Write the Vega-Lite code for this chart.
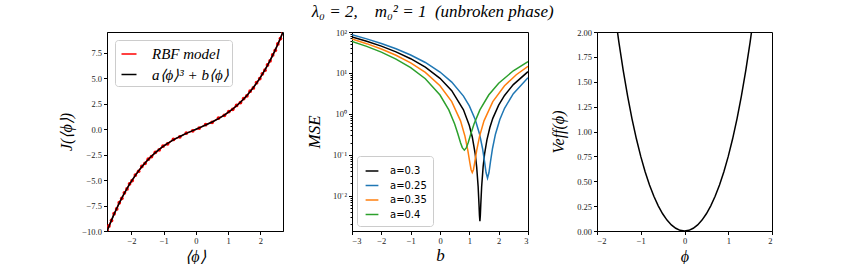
{
  "$schema": "https://vega.github.io/schema/vega-lite/v6.json",
  "autosize": {"type": "none"},
  "padding": {"left": 107, "top": 32, "right": 752, "bottom": 232},
  "background": "white",
  "title": {"text": "λ₀ = 2,\u2002\u2002m₀² = 1\u2002(unbroken phase)", "font": "Liberation Serif", "fontStyle": "italic", "fontWeight": "normal", "fontSize": 17, "color": "black", "anchor": "middle", "offset": 7, "dx": 17},
  "datasets": {
    "rbf": [
      {"phi": -2.756, "J": -9.98, "series": "RBF model"},
      {"phi": -2.70, "J": -9.50, "series": "RBF model"},
      {"phi": -2.62, "J": -8.96, "series": "RBF model"},
      {"phi": -2.54, "J": -8.30, "series": "RBF model"},
      {"phi": -2.46, "J": -7.83, "series": "RBF model"},
      {"phi": -2.38, "J": -7.22, "series": "RBF model"},
      {"phi": -2.30, "J": -6.79, "series": "RBF model"},
      {"phi": -2.22, "J": -6.25, "series": "RBF model"},
      {"phi": -2.14, "J": -5.87, "series": "RBF model"},
      {"phi": -2.06, "J": -5.37, "series": "RBF model"},
      {"phi": -1.98, "J": -5.04, "series": "RBF model"},
      {"phi": -1.88, "J": -4.50, "series": "RBF model"},
      {"phi": -1.78, "J": -4.13, "series": "RBF model"},
      {"phi": -1.68, "J": -3.66, "series": "RBF model"},
      {"phi": -1.58, "J": -3.35, "series": "RBF model"},
      {"phi": -1.48, "J": -2.94, "series": "RBF model"},
      {"phi": -1.38, "J": -2.69, "series": "RBF model"},
      {"phi": -1.26, "J": -2.27, "series": "RBF model"},
      {"phi": -1.14, "J": -2.02, "series": "RBF model"},
      {"phi": -1.02, "J": -1.66, "series": "RBF model"},
      {"phi": -0.88, "J": -1.43, "series": "RBF model"},
      {"phi": -0.70, "J": -1.01, "series": "RBF model"},
      {"phi": -0.50, "J": -0.75, "series": "RBF model"},
      {"phi": -0.30, "J": -0.38, "series": "RBF model"},
      {"phi": -0.10, "J": -0.16, "series": "RBF model"},
      {"phi": 0.10, "J": 0.11, "series": "RBF model"},
      {"phi": 0.30, "J": 0.45, "series": "RBF model"},
      {"phi": 0.50, "J": 0.68, "series": "RBF model"},
      {"phi": 0.70, "J": 1.09, "series": "RBF model"},
      {"phi": 0.88, "J": 1.36, "series": "RBF model"},
      {"phi": 1.02, "J": 1.73, "series": "RBF model"},
      {"phi": 1.14, "J": 1.95, "series": "RBF model"},
      {"phi": 1.26, "J": 2.34, "series": "RBF model"},
      {"phi": 1.38, "J": 2.62, "series": "RBF model"},
      {"phi": 1.48, "J": 3.01, "series": "RBF model"},
      {"phi": 1.58, "J": 3.28, "series": "RBF model"},
      {"phi": 1.68, "J": 3.73, "series": "RBF model"},
      {"phi": 1.78, "J": 4.06, "series": "RBF model"},
      {"phi": 1.88, "J": 4.57, "series": "RBF model"},
      {"phi": 1.98, "J": 4.97, "series": "RBF model"},
      {"phi": 2.06, "J": 5.44, "series": "RBF model"},
      {"phi": 2.14, "J": 5.80, "series": "RBF model"},
      {"phi": 2.22, "J": 6.32, "series": "RBF model"},
      {"phi": 2.30, "J": 6.72, "series": "RBF model"},
      {"phi": 2.38, "J": 7.30, "series": "RBF model"},
      {"phi": 2.46, "J": 7.75, "series": "RBF model"},
      {"phi": 2.54, "J": 8.38, "series": "RBF model"},
      {"phi": 2.62, "J": 8.90, "series": "RBF model"},
      {"phi": 2.70, "J": 9.58, "series": "RBF model"}
    ],
    "fit": [
      {"phi": -2.756, "J": -10.0, "series": "a⟨ϕ⟩³ + b⟨ϕ⟩"},
      {"phi": -2.70, "J": -9.550, "series": "a⟨ϕ⟩³ + b⟨ϕ⟩"},
      {"phi": -2.62, "J": -8.933, "series": "a⟨ϕ⟩³ + b⟨ϕ⟩"},
      {"phi": -2.54, "J": -8.345, "series": "a⟨ϕ⟩³ + b⟨ϕ⟩"},
      {"phi": -2.46, "J": -7.787, "series": "a⟨ϕ⟩³ + b⟨ϕ⟩"},
      {"phi": -2.38, "J": -7.257, "series": "a⟨ϕ⟩³ + b⟨ϕ⟩"},
      {"phi": -2.30, "J": -6.755, "series": "a⟨ϕ⟩³ + b⟨ϕ⟩"},
      {"phi": -2.22, "J": -6.279, "series": "a⟨ϕ⟩³ + b⟨ϕ⟩"},
      {"phi": -2.14, "J": -5.829, "series": "a⟨ϕ⟩³ + b⟨ϕ⟩"},
      {"phi": -2.06, "J": -5.404, "series": "a⟨ϕ⟩³ + b⟨ϕ⟩"},
      {"phi": -1.98, "J": -5.002, "series": "a⟨ϕ⟩³ + b⟨ϕ⟩"},
      {"phi": -1.88, "J": -4.531, "series": "a⟨ϕ⟩³ + b⟨ϕ⟩"},
      {"phi": -1.78, "J": -4.095, "series": "a⟨ϕ⟩³ + b⟨ϕ⟩"},
      {"phi": -1.68, "J": -3.691, "series": "a⟨ϕ⟩³ + b⟨ϕ⟩"},
      {"phi": -1.58, "J": -3.316, "series": "a⟨ϕ⟩³ + b⟨ϕ⟩"},
      {"phi": -1.48, "J": -2.971, "series": "a⟨ϕ⟩³ + b⟨ϕ⟩"},
      {"phi": -1.38, "J": -2.651, "series": "a⟨ϕ⟩³ + b⟨ϕ⟩"},
      {"phi": -1.26, "J": -2.301, "series": "a⟨ϕ⟩³ + b⟨ϕ⟩"},
      {"phi": -1.14, "J": -1.984, "series": "a⟨ϕ⟩³ + b⟨ϕ⟩"},
      {"phi": -1.02, "J": -1.695, "series": "a⟨ϕ⟩³ + b⟨ϕ⟩"},
      {"phi": -0.88, "J": -1.392, "series": "a⟨ϕ⟩³ + b⟨ϕ⟩"},
      {"phi": -0.70, "J": -1.048, "series": "a⟨ϕ⟩³ + b⟨ϕ⟩"},
      {"phi": -0.50, "J": -0.7125, "series": "a⟨ϕ⟩³ + b⟨ϕ⟩"},
      {"phi": -0.30, "J": -0.413, "series": "a⟨ϕ⟩³ + b⟨ϕ⟩"},
      {"phi": -0.10, "J": -0.135, "series": "a⟨ϕ⟩³ + b⟨ϕ⟩"},
      {"phi": 0.0, "J": 0.0, "series": "a⟨ϕ⟩³ + b⟨ϕ⟩"},
      {"phi": 0.10, "J": 0.135, "series": "a⟨ϕ⟩³ + b⟨ϕ⟩"},
      {"phi": 0.30, "J": 0.413, "series": "a⟨ϕ⟩³ + b⟨ϕ⟩"},
      {"phi": 0.50, "J": 0.7125, "series": "a⟨ϕ⟩³ + b⟨ϕ⟩"},
      {"phi": 0.70, "J": 1.048, "series": "a⟨ϕ⟩³ + b⟨ϕ⟩"},
      {"phi": 0.88, "J": 1.392, "series": "a⟨ϕ⟩³ + b⟨ϕ⟩"},
      {"phi": 1.02, "J": 1.695, "series": "a⟨ϕ⟩³ + b⟨ϕ⟩"},
      {"phi": 1.14, "J": 1.984, "series": "a⟨ϕ⟩³ + b⟨ϕ⟩"},
      {"phi": 1.26, "J": 2.301, "series": "a⟨ϕ⟩³ + b⟨ϕ⟩"},
      {"phi": 1.38, "J": 2.651, "series": "a⟨ϕ⟩³ + b⟨ϕ⟩"},
      {"phi": 1.48, "J": 2.971, "series": "a⟨ϕ⟩³ + b⟨ϕ⟩"},
      {"phi": 1.58, "J": 3.316, "series": "a⟨ϕ⟩³ + b⟨ϕ⟩"},
      {"phi": 1.68, "J": 3.691, "series": "a⟨ϕ⟩³ + b⟨ϕ⟩"},
      {"phi": 1.78, "J": 4.095, "series": "a⟨ϕ⟩³ + b⟨ϕ⟩"},
      {"phi": 1.88, "J": 4.531, "series": "a⟨ϕ⟩³ + b⟨ϕ⟩"},
      {"phi": 1.98, "J": 5.002, "series": "a⟨ϕ⟩³ + b⟨ϕ⟩"},
      {"phi": 2.06, "J": 5.404, "series": "a⟨ϕ⟩³ + b⟨ϕ⟩"},
      {"phi": 2.14, "J": 5.829, "series": "a⟨ϕ⟩³ + b⟨ϕ⟩"},
      {"phi": 2.22, "J": 6.279, "series": "a⟨ϕ⟩³ + b⟨ϕ⟩"},
      {"phi": 2.30, "J": 6.755, "series": "a⟨ϕ⟩³ + b⟨ϕ⟩"},
      {"phi": 2.38, "J": 7.257, "series": "a⟨ϕ⟩³ + b⟨ϕ⟩"},
      {"phi": 2.46, "J": 7.787, "series": "a⟨ϕ⟩³ + b⟨ϕ⟩"},
      {"phi": 2.54, "J": 8.345, "series": "a⟨ϕ⟩³ + b⟨ϕ⟩"},
      {"phi": 2.62, "J": 8.933, "series": "a⟨ϕ⟩³ + b⟨ϕ⟩"},
      {"phi": 2.70, "J": 9.550, "series": "a⟨ϕ⟩³ + b⟨ϕ⟩"}
    ],
    "mse": [
      {"a": "0.3", "b": -3.0, "mse": 76.04},
      {"a": "0.3", "b": -2.5, "mse": 59.60},
      {"a": "0.3", "b": -2.0, "mse": 45.16},
      {"a": "0.3", "b": -1.5, "mse": 32.72},
      {"a": "0.3", "b": -1.0, "mse": 22.28},
      {"a": "0.3", "b": -0.5, "mse": 13.84},
      {"a": "0.3", "b": 0.0, "mse": 7.40},
      {"a": "0.3", "b": 0.4, "mse": 3.689},
      {"a": "0.3", "b": 0.8, "mse": 1.257},
      {"a": "0.3", "b": 1.0, "mse": 0.521},
      {"a": "0.3", "b": 1.1, "mse": 0.273},
      {"a": "0.3", "b": 1.2, "mse": 0.105},
      {"a": "0.3", "b": 1.25, "mse": 0.0508},
      {"a": "0.3", "b": 1.3, "mse": 0.0168},
      {"a": "0.3", "b": 1.33, "mse": 0.0060},
      {"a": "0.3", "b": 1.345, "mse": 0.0033},
      {"a": "0.3", "b": 1.36, "mse": 0.0024},
      {"a": "0.3", "b": 1.375, "mse": 0.0033},
      {"a": "0.3", "b": 1.39, "mse": 0.0060},
      {"a": "0.3", "b": 1.42, "mse": 0.0168},
      {"a": "0.3", "b": 1.47, "mse": 0.0508},
      {"a": "0.3", "b": 1.52, "mse": 0.105},
      {"a": "0.3", "b": 1.6, "mse": 0.233},
      {"a": "0.3", "b": 1.7, "mse": 0.465},
      {"a": "0.3", "b": 1.8, "mse": 0.777},
      {"a": "0.3", "b": 2.0, "mse": 1.641},
      {"a": "0.3", "b": 2.2, "mse": 2.825},
      {"a": "0.3", "b": 2.5, "mse": 5.201},
      {"a": "0.3", "b": 3.0, "mse": 10.76},
      {"a": "0.25", "b": -3.0, "mse": 85.40},
      {"a": "0.25", "b": -2.5, "mse": 67.92},
      {"a": "0.25", "b": -2.0, "mse": 52.44},
      {"a": "0.25", "b": -1.5, "mse": 38.96},
      {"a": "0.25", "b": -1.0, "mse": 27.48},
      {"a": "0.25", "b": -0.5, "mse": 18.00},
      {"a": "0.25", "b": 0.0, "mse": 10.52},
      {"a": "0.25", "b": 0.4, "mse": 5.98},
      {"a": "0.25", "b": 0.8, "mse": 2.717},
      {"a": "0.25", "b": 1.0, "mse": 1.565},
      {"a": "0.25", "b": 1.2, "mse": 0.733},
      {"a": "0.25", "b": 1.35, "mse": 0.319},
      {"a": "0.25", "b": 1.45, "mse": 0.143},
      {"a": "0.25", "b": 1.52, "mse": 0.067},
      {"a": "0.25", "b": 1.57, "mse": 0.037},
      {"a": "0.25", "b": 1.62, "mse": 0.027},
      {"a": "0.25", "b": 1.67, "mse": 0.037},
      {"a": "0.25", "b": 1.72, "mse": 0.067},
      {"a": "0.25", "b": 1.79, "mse": 0.143},
      {"a": "0.25", "b": 1.89, "mse": 0.319},
      {"a": "0.25", "b": 2.04, "mse": 0.733},
      {"a": "0.25", "b": 2.2, "mse": 1.373},
      {"a": "0.25", "b": 2.5, "mse": 3.125},
      {"a": "0.25", "b": 3.0, "mse": 7.645},
      {"a": "0.35", "b": -3.0, "mse": 67.28},
      {"a": "0.35", "b": -2.5, "mse": 51.88},
      {"a": "0.35", "b": -2.0, "mse": 38.48},
      {"a": "0.35", "b": -1.5, "mse": 27.08},
      {"a": "0.35", "b": -1.0, "mse": 17.68},
      {"a": "0.35", "b": -0.5, "mse": 10.28},
      {"a": "0.35", "b": 0.0, "mse": 4.877},
      {"a": "0.35", "b": 0.4, "mse": 1.997},
      {"a": "0.35", "b": 0.7, "mse": 0.677},
      {"a": "0.35", "b": 0.85, "mse": 0.287},
      {"a": "0.35", "b": 0.95, "mse": 0.127},
      {"a": "0.35", "b": 1.02, "mse": 0.0626},
      {"a": "0.35", "b": 1.06, "mse": 0.0434},
      {"a": "0.35", "b": 1.10, "mse": 0.037},
      {"a": "0.35", "b": 1.14, "mse": 0.0434},
      {"a": "0.35", "b": 1.18, "mse": 0.0626},
      {"a": "0.35", "b": 1.25, "mse": 0.127},
      {"a": "0.35", "b": 1.35, "mse": 0.287},
      {"a": "0.35", "b": 1.5, "mse": 0.677},
      {"a": "0.35", "b": 1.8, "mse": 1.997},
      {"a": "0.35", "b": 2.2, "mse": 4.877},
      {"a": "0.35", "b": 2.6, "mse": 9.037},
      {"a": "0.35", "b": 3.0, "mse": 14.48},
      {"a": "0.4", "b": -3.0, "mse": 58.81},
      {"a": "0.4", "b": -2.5, "mse": 44.49},
      {"a": "0.4", "b": -2.0, "mse": 32.17},
      {"a": "0.4", "b": -1.5, "mse": 21.85},
      {"a": "0.4", "b": -1.0, "mse": 13.53},
      {"a": "0.4", "b": -0.5, "mse": 7.206},
      {"a": "0.4", "b": 0.0, "mse": 2.886},
      {"a": "0.4", "b": 0.3, "mse": 1.254},
      {"a": "0.4", "b": 0.5, "mse": 0.566},
      {"a": "0.4", "b": 0.6, "mse": 0.342},
      {"a": "0.4", "b": 0.7, "mse": 0.198},
      {"a": "0.4", "b": 0.76, "mse": 0.150},
      {"a": "0.4", "b": 0.83, "mse": 0.130},
      {"a": "0.4", "b": 0.9, "mse": 0.150},
      {"a": "0.4", "b": 0.96, "mse": 0.198},
      {"a": "0.4", "b": 1.06, "mse": 0.342},
      {"a": "0.4", "b": 1.16, "mse": 0.566},
      {"a": "0.4", "b": 1.36, "mse": 1.254},
      {"a": "0.4", "b": 1.66, "mse": 2.886},
      {"a": "0.4", "b": 2.0, "mse": 5.606},
      {"a": "0.4", "b": 2.5, "mse": 11.29},
      {"a": "0.4", "b": 3.0, "mse": 18.97}
    ],
    "veff": [
      {"phi": -1.6, "V": 2.2195},
      {"phi": -1.5, "V": 1.8984},
      {"phi": -1.4, "V": 1.6111},
      {"phi": -1.3, "V": 1.3550},
      {"phi": -1.2, "V": 1.1275},
      {"phi": -1.1, "V": 0.9266},
      {"phi": -1.0, "V": 0.75},
      {"phi": -0.9, "V": 0.5960},
      {"phi": -0.8, "V": 0.4627},
      {"phi": -0.7, "V": 0.3488},
      {"phi": -0.6, "V": 0.2527},
      {"phi": -0.5, "V": 0.1734},
      {"phi": -0.4, "V": 0.1099},
      {"phi": -0.3, "V": 0.0614},
      {"phi": -0.2, "V": 0.0271},
      {"phi": -0.1, "V": 0.0068},
      {"phi": 0.0, "V": 0.0},
      {"phi": 0.1, "V": 0.0068},
      {"phi": 0.2, "V": 0.0271},
      {"phi": 0.3, "V": 0.0614},
      {"phi": 0.4, "V": 0.1099},
      {"phi": 0.5, "V": 0.1734},
      {"phi": 0.6, "V": 0.2527},
      {"phi": 0.7, "V": 0.3488},
      {"phi": 0.8, "V": 0.4627},
      {"phi": 0.9, "V": 0.5960},
      {"phi": 1.0, "V": 0.75},
      {"phi": 1.1, "V": 0.9266},
      {"phi": 1.2, "V": 1.1275},
      {"phi": 1.3, "V": 1.3550},
      {"phi": 1.4, "V": 1.6111},
      {"phi": 1.5, "V": 1.8984},
      {"phi": 1.6, "V": 2.2195}
    ]
  },
  "bounds": "flush",
  "spacing": 69,
  "resolve": {"scale": {"color": "independent", "x": "independent", "y": "independent"}, "legend": {"color": "independent"}},
  "hconcat": [
    {
      "width": 176,
      "height": 199,
      "encoding": {
        "x": {"field": "phi", "type": "quantitative", "scale": {"domain": [-2.76, 2.7], "nice": false, "zero": false}, "axis": {"values": [-2, -1, 0, 1, 2], "title": "⟨ϕ⟩", "titleFontSize": 16, "titlePadding": 3}},
        "y": {"field": "J", "type": "quantitative", "scale": {"domain": [-10, 9.55], "nice": false, "zero": false}, "axis": {"values": [-10, -7.5, -5, -2.5, 0, 2.5, 5, 7.5], "format": ".1f", "title": "J(⟨ϕ⟩)", "titleFontSize": 16, "titlePadding": 7}},
        "color": {"field": "series", "type": "nominal", "scale": {"domain": ["RBF model", "a⟨ϕ⟩³ + b⟨ϕ⟩"], "range": ["#ff0000", "#000000"]},
          "legend": {"title": null, "orient": "top-left", "offset": 8, "symbolType": "M-0.75,0H0.75", "symbolSize": 400, "symbolStrokeWidth": 1.5, "labelFont": "Liberation Serif", "labelFontStyle": "italic", "labelFontSize": 15, "labelColor": "black", "labelOffset": 12, "rowPadding": 1.5, "padding": 3, "strokeColor": "#cccccc", "cornerRadius": 3, "fillColor": "white"}}
      },
      "layer": [
        {
          "data": {"name": "rbf"},
          "mark": {"type": "line", "clip": true, "strokeWidth": 1.5, "point": {"filled": true, "size": 14}}
        },
        {
          "data": {"name": "fit"},
          "mark": {"type": "line", "clip": true, "strokeWidth": 1.5}
        }
      ]
    },
    {
      "width": 176,
      "height": 199,
      "data": {"name": "mse"},
      "encoding": {
        "x": {"field": "b", "type": "quantitative", "scale": {"domain": [-3, 3], "nice": false, "zero": false}, "axis": {"values": [-3, -2, -1, 0, 1, 2, 3], "title": "b", "titleFontSize": 17, "titlePadding": 2}}
      },
      "layer": [
        {
          "mark": {"type": "line", "clip": true, "strokeWidth": 1.5},
          "encoding": {
            "y": {"field": "mse", "type": "quantitative", "scale": {"type": "log", "domain": [0.00138, 100], "nice": false}, "axis": {"values": [0.01, 0.1, 1, 10, 100], "labelExpr": "datum.value > 50 ? '10²' : datum.value > 5 ? '10¹' : datum.value > 0.5 ? '10⁰' : datum.value > 0.05 ? '10⁻¹' : '10⁻²'", "title": "MSE", "titleFontSize": 17, "titlePadding": 9}},
            "color": {"field": "a", "type": "nominal", "scale": {"domain": ["0.3", "0.25", "0.35", "0.4"], "range": ["#000000", "#1f77b4", "#ff7f0e", "#2ca02c"]},
              "legend": {"title": null, "orient": "bottom-left", "offset": 5, "labelExpr": "'a=' + datum.label", "symbolType": "M-0.8,0H0.8", "symbolSize": 256, "symbolStrokeWidth": 1.5, "labelFont": "DejaVu Sans", "labelFontSize": 10, "labelColor": "black", "labelOffset": 9, "rowPadding": 0.5, "padding": 6, "strokeColor": "#cccccc", "cornerRadius": 3, "fillColor": "white"}}
          }
        },
        {
          "mark": {"type": "point", "opacity": 0},
          "encoding": {
            "y": {"field": "mse", "type": "quantitative", "axis": {"orient": "left", "values": [0.002, 0.003, 0.004, 0.005, 0.006, 0.007, 0.008, 0.009, 0.02, 0.03, 0.04, 0.05, 0.06, 0.07, 0.08, 0.09, 0.2, 0.3, 0.4, 0.5, 0.6, 0.7, 0.8, 0.9, 2, 3, 4, 5, 6, 7, 8, 9, 20, 30, 40, 50, 60, 70, 80, 90], "labels": false, "tickSize": 2, "domain": false, "title": null}}
          }
        }
      ],
      "resolve": {"axis": {"y": "independent"}}
    },
    {
      "width": 175,
      "height": 199,
      "data": {"name": "veff"},
      "mark": {"type": "line", "clip": true, "strokeWidth": 1.5, "color": "black"},
      "encoding": {
        "x": {"field": "phi", "type": "quantitative", "scale": {"domain": [-2, 2], "nice": false, "zero": false}, "axis": {"values": [-2, -1, 0, 1, 2], "title": "ϕ", "titleFontSize": 16, "titlePadding": 3}},
        "y": {"field": "V", "type": "quantitative", "scale": {"domain": [0, 2], "nice": false, "zero": false}, "axis": {"values": [0, 0.25, 0.5, 0.75, 1, 1.25, 1.5, 1.75, 2], "format": ".2f", "title": "Veff(ϕ)", "titleFontSize": 16, "titlePadding": 10}}
      }
    }
  ],
  "config": {
    "view": {"stroke": "black", "strokeWidth": 1},
    "axis": {"grid": false, "domainColor": "black", "domainWidth": 1, "tickColor": "black", "tickSize": 3.5, "labelFont": "Liberation Serif", "labelFontSize": 8.5, "labelColor": "#222222", "labelPadding": 2, "labelOverlap": false, "labelBound": false, "titleFont": "Liberation Serif", "titleFontStyle": "italic", "titleFontWeight": "normal", "titleColor": "black"}
  }
}
